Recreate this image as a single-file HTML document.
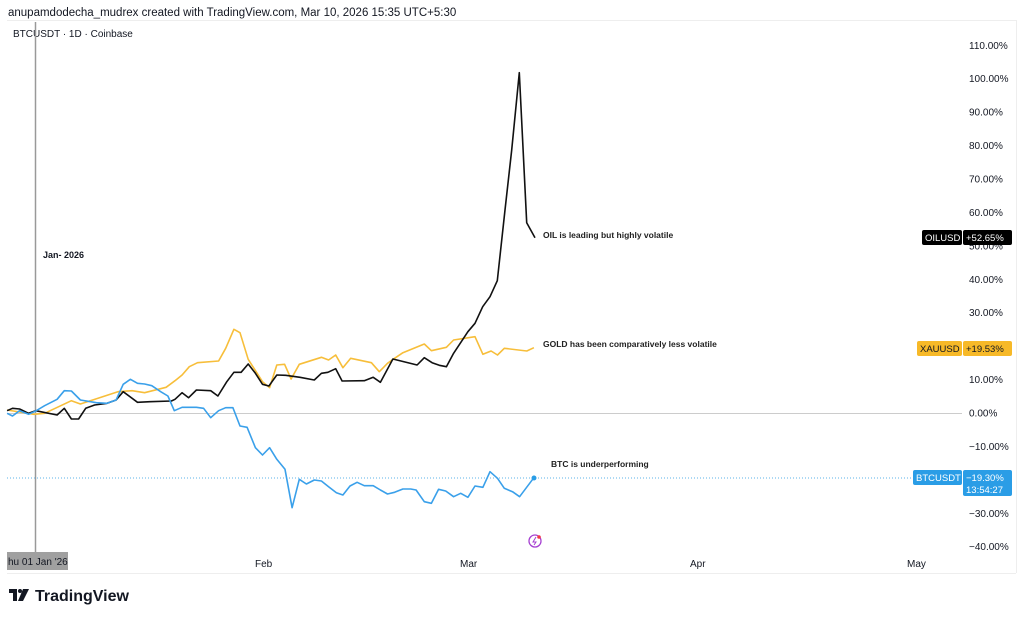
<!DOCTYPE html>
<html><head><meta charset="utf-8"><style>
body{margin:0;width:1024px;height:618px;background:#fff;overflow:hidden;font-family:"Liberation Sans",sans-serif}
svg{position:absolute;left:0;top:0}
</style></head><body>
<svg id="s" width="1024" height="618" xmlns="http://www.w3.org/2000/svg" font-family="Liberation Sans, sans-serif">
<text x="8" y="16" font-size="11.5" fill="#131722">anupamdodecha_mudrex created with TradingView.com, Mar 10, 2026 15:35 UTC+5:30</text>
<line x1="7" y1="20.5" x2="1016" y2="20.5" stroke="#eee"/>
<line x1="1016.5" y1="20" x2="1016.5" y2="573" stroke="#eee"/>
<line x1="7" y1="573.5" x2="1016" y2="573.5" stroke="#eee"/>
<text x="13" y="37" font-size="10" fill="#131722">BTCUSDT · 1D · Coinbase</text>
<line x1="35.5" y1="22" x2="35.5" y2="553" stroke="#999" stroke-width="1.5"/>
<line x1="7" y1="413.5" x2="962" y2="413.5" stroke="#ccc" stroke-width="1"/>
<line x1="7" y1="478" x2="912" y2="478" stroke="#5bb3ea" stroke-width="1" stroke-dasharray="1,2"/>
<text x="43" y="258" font-size="9" font-weight="bold" fill="#131722">Jan- 2026</text>
<g id="ylab" font-size="10" fill="#131722"></g>
<polyline id="gold" fill="none" stroke="#f7be3a" stroke-width="1.6" stroke-linejoin="round"/>
<polyline id="oil" fill="none" stroke="#111" stroke-width="1.6" stroke-linejoin="round"/>
<polyline id="btc" fill="none" stroke="#3aa0ea" stroke-width="1.6" stroke-linejoin="round"/>
<circle cx="534" cy="478" r="2.5" fill="#2a9de6"/>
<text x="543" y="238" font-size="8.5" font-weight="bold" fill="#222">OIL is leading but highly volatile</text>
<text x="543" y="347" font-size="8.5" font-weight="bold" fill="#222">GOLD has been comparatively less volatile</text>
<text x="551" y="467" font-size="8.5" font-weight="bold" fill="#222">BTC is underperforming</text>
<rect x="922" y="230" width="40" height="15" rx="2" fill="#000"/>
<rect x="963" y="230" width="49" height="15" rx="2" fill="#000"/>
<text x="925" y="241" font-size="9.5" fill="#fff">OILUSD</text>
<text x="966" y="241" font-size="9.5" fill="#fff">+52.65%</text>
<rect x="917" y="341" width="45" height="15" rx="2" fill="#f7b928"/>
<rect x="963" y="341" width="49" height="15" rx="2" fill="#f7b928"/>
<text x="920" y="352" font-size="9.5" fill="#131722">XAUUSD</text>
<text x="966" y="352" font-size="9.5" fill="#131722">+19.53%</text>
<rect x="913" y="470" width="49" height="15" rx="2" fill="#2a9de6"/>
<rect x="963" y="470" width="49" height="26" rx="2" fill="#2a9de6"/>
<text x="916" y="481" font-size="9.5" fill="#fff">BTCUSDT</text>
<text x="966" y="481" font-size="9.5" fill="#fff">−19.30%</text>
<text x="966" y="493" font-size="9.5" fill="#fff">13:54:27</text>
<circle cx="535" cy="541" r="6" fill="none" stroke="#a53fd1" stroke-width="1.3"/>
<path d="M536 537 L533 542 L536 542 L534 545" fill="none" stroke="#a53fd1" stroke-width="1"/>
<circle cx="539" cy="537" r="1.8" fill="#f23645"/>
<rect x="7" y="552" width="61" height="18" fill="#a0a0a0"/>
<text x="8" y="565" font-size="10" fill="#131722">hu 01 Jan '26</text>
<text x="255" y="567" font-size="10" fill="#131722">Feb</text>
<text x="460" y="567" font-size="10" fill="#131722">Mar</text>
<text x="690" y="567" font-size="10" fill="#131722">Apr</text>
<text x="907" y="567" font-size="10" fill="#131722">May</text>
<path d="M9 589 h8 v12 h-4 v-8 h-4z" fill="#131722"/>
<circle cx="20" cy="591" r="2" fill="#131722"/>
<path d="M23 589 h6 l-6 12 h-5z" fill="#131722"/>
<text x="35" y="601" font-size="16" font-weight="bold" fill="#131722">TradingView</text>
</svg>
<script>
function P(a,xs,ys,ox,oy){var r=[];for(var i=0;i<a.length;i+=2)r.push((a[i]/xs+ox).toFixed(1)+','+(a[i+1]/ys+oy).toFixed(1));return r;}
var g=[20,270,95,283,125,280,200,242,225,252,330,215,370,212,405,218,465,202,490,182,510,165,530,140,553,128,612,123,632,85,655,28,672,38,695,118,735,185,755,203,775,135,797,133,815,177,838,133,900,112,920,120,940,105,960,143,982,115,1040,128,1062,155,1085,130,1105,115,1128,98,1188,72,1208,92,1250,82,1270,60,1330,50,1352,103,1375,93,1393,105,1412,85,1475,93,1495,83];
var o=[20,272,35,265,55,267,80,280,100,272,160,285,180,265,200,297,220,297,240,265,265,255,300,250,325,240,345,215,385,247,420,245,480,243,490,238,510,218,528,233,550,210,590,212,610,228,635,185,655,157,675,157,695,132,715,160,735,193,753,198,775,165,800,166,840,172,880,180,900,160,918,157,940,146,958,183,1020,182,1045,172,1065,187,1100,117,1168,135,1188,113,1210,128,1230,136,1250,140,1270,100,1310,35];
var o2=[165,790,188,740,210,710,232,662,255,450,275,270,298,38,320,488,345,533];
var b=[20,280,35,288,55,272,80,283,100,273,125,257,160,238,180,212,200,213,225,240,270,248,300,250,325,240,345,193,365,178,385,190,405,192,425,197,450,215,470,228,488,272,510,262,550,262,570,265,590,293,612,272,632,263,652,263,672,318,692,322,715,383,735,405,755,383,775,418,798,448,818,563,838,478,858,492,880,480,900,483,920,500,942,518,960,525,980,498,1000,487,1020,497,1045,497,1065,510,1085,522,1105,517,1128,507,1150,507,1165,510,1188,545,1208,550,1228,508,1248,513,1270,530,1290,520,1310,532,1330,498,1352,502,1372,455,1393,475,1412,505,1435,515,1455,530,1495,473];
document.getElementById('gold').setAttribute('points',P(g,2.8,3,0,320).join(' '));
document.getElementById('oil').setAttribute('points',P(o,2.8,3,0,320).concat(P(o2,3,3,420,60)).join(' '));
document.getElementById('btc').setAttribute('points',P(b,2.8,3,0,320).join(' '));
var yl=document.getElementById('ylab'),h='';
for(var v=110;v>=-40;v-=10){var y=413-v*3.343;h+='<text x="969" y="'+(y+3.5).toFixed(1)+'">'+(v<0?'−'+(-v):v)+'.00%</text>';}
yl.innerHTML=h;
</script>
</body></html>
